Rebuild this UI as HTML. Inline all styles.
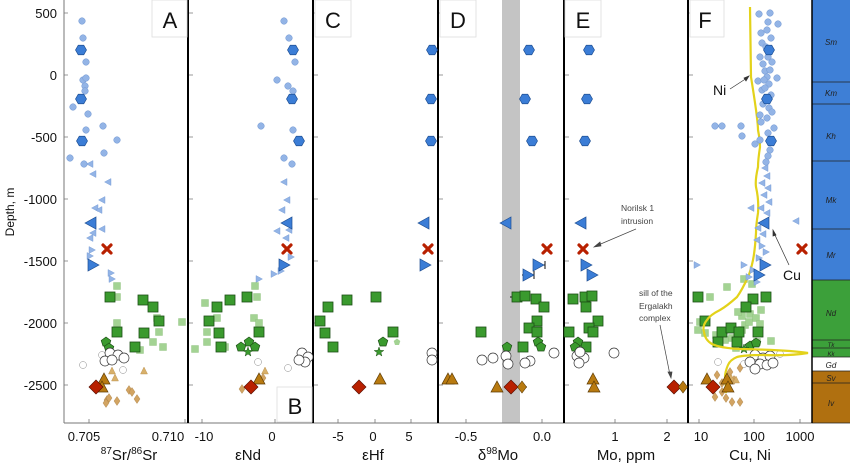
<!DOCTYPE html>
<html><head><meta charset="utf-8"><style>
html,body{margin:0;padding:0;background:#fff;}
svg{display:block;font-family:"Liberation Sans",sans-serif;}
</style></head><body>
<svg width="850" height="465" viewBox="0 0 850 465" xmlns="http://www.w3.org/2000/svg">
<defs>
<circle id="c" r="3.3" fill="#93b4e6" stroke="#7298d2" stroke-width="0.5"/>
<polygon id="H" points="5.5,0 2.75,4.76 -2.75,4.76 -5.5,0 -2.75,-4.76 2.75,-4.76" fill="#3b7dd6" stroke="#1f4f93" stroke-width="0.7"/>
<polygon id="tl" points="-3.5,0 3,-3.5 3,3.5" fill="#93b4e6" stroke="#7298d2" stroke-width="0.4"/>
<polygon id="tr" points="3.5,0 -3,-3.5 -3,3.5" fill="#93b4e6" stroke="#7298d2" stroke-width="0.4"/>
<polygon id="TL" points="-6,0 5,-6 5,6" fill="#3b7dd6" stroke="#1f4f93" stroke-width="0.7"/>
<polygon id="TR" points="6,0 -5,-6 -5,6" fill="#3b7dd6" stroke="#1f4f93" stroke-width="0.7"/>
<rect id="S" x="-5" y="-5" width="10" height="10" fill="#3a9a2e" stroke="#1d4f16" stroke-width="0.8"/>
<rect id="s" x="-3.5" y="-3.5" width="7" height="7" fill="#a3d393" stroke="#8cc07c" stroke-width="0.4"/>
<polygon id="P" points="0,-5 4.8,-1.5 3,4 -3,4 -4.8,-1.5" fill="#3a9a2e" stroke="#1d4f16" stroke-width="0.7"/>
<polygon id="st" points="0,-5 1.2,-1.6 4.8,-1.5 1.9,0.6 2.9,4 0,2 -2.9,4 -1.9,0.6 -4.8,-1.5 -1.2,-1.6" fill="#3a9a2e" stroke="#1d4f16" stroke-width="0.5"/>
<circle id="o" r="5" fill="#fff" stroke="#333" stroke-width="0.7"/>
<circle id="os" r="3.5" fill="#fff" stroke="#888" stroke-width="0.5"/>
<polygon id="B" points="0,-6 6,5 -6,5" fill="#b87a10" stroke="#5e3c06" stroke-width="0.7"/>
<polygon id="b" points="0,-4 3.5,3 -3.5,3" fill="#d8b06a" stroke="#b48a48" stroke-width="0.4"/>
<polygon id="d" points="0,-4.5 3,0 0,4.5 -3,0" fill="#d2a462" stroke="#a77c40" stroke-width="0.4"/>
<polygon id="D" points="0,-7 7,0 0,7 -7,0" fill="#b82000" stroke="#5a0e00" stroke-width="0.7"/>
<path id="X" d="M-4,-4 L4,4 M4,-4 L-4,4" stroke="#b82000" stroke-width="3.2" stroke-linecap="round"/>
</defs>

<!-- strat column -->
<rect x="812" y="0" width="38" height="280" fill="#3e7fd6"/>
<rect x="812" y="280" width="38" height="77" fill="#3ca03a"/>
<rect x="812" y="357" width="38" height="14" fill="#fff"/>
<rect x="812" y="371" width="38" height="52" fill="#b07010"/>
<g stroke="#222" stroke-width="0.8">
<line x1="812" y1="82" x2="850" y2="82"/><line x1="812" y1="104" x2="850" y2="104"/>
<line x1="812" y1="161" x2="850" y2="161"/><line x1="812" y1="229" x2="850" y2="229"/>
<line x1="812" y1="280" x2="850" y2="280"/><line x1="812" y1="340" x2="850" y2="340"/>
<line x1="812" y1="348" x2="850" y2="348"/><line x1="812" y1="357" x2="850" y2="357"/>
<line x1="812" y1="371" x2="850" y2="371"/><line x1="812" y1="383" x2="850" y2="383"/>
<line x1="812" y1="423" x2="850" y2="423"/>
</g>
<g font-size="8" font-style="italic" fill="#222" text-anchor="middle">
<text x="831" y="45">Sm</text><text x="831" y="96">Km</text><text x="831" y="139">Kh</text>
<text x="831" y="203">Mk</text><text x="831" y="258">Mr</text><text x="831" y="316">Nd</text>
<text x="831" y="347" font-size="6">Tk</text><text x="831" y="356" font-size="6">Kk</text>
<text x="831" y="368">Gd</text><text x="831" y="381">Sv</text><text x="831" y="406">Iv</text>
</g>

<!-- gray band D -->
<rect x="502" y="0" width="18" height="423" fill="#c4c4c4"/>

<!-- axes frame -->
<g stroke="#000">
<line x1="64" y1="0" x2="64" y2="423" stroke="#777" stroke-width="1"/>
<line x1="64" y1="423" x2="812" y2="423" stroke="#777" stroke-width="1"/>
<line x1="188" y1="0" x2="188" y2="423" stroke-width="2"/>
<line x1="313" y1="0" x2="313" y2="423" stroke-width="2"/>
<line x1="438" y1="0" x2="438" y2="423" stroke-width="2"/>
<line x1="564" y1="0" x2="564" y2="423" stroke-width="2"/>
<line x1="688" y1="0" x2="688" y2="423" stroke-width="2"/>
<line x1="812" y1="0" x2="812" y2="423" stroke-width="1.5"/>
</g>
<!-- y ticks -->
<g stroke="#777" stroke-width="0.8">
<path d="M64,13h4M64,75h4M64,137h4M64,199h4M64,261h4M64,323h4M64,385h4"/>
<path d="M189,13h4M189,75h4M189,137h4M189,199h4M189,261h4M189,323h4M189,385h4"/>
<path d="M314,13h4M314,75h4M314,137h4M314,199h4M314,261h4M314,323h4M314,385h4"/>
<path d="M439,13h4M439,75h4M439,137h4M439,199h4M439,261h4M439,323h4M439,385h4"/>
<path d="M565,13h4M565,75h4M565,137h4M565,199h4M565,261h4M565,323h4M565,385h4"/>
<path d="M689,13h4M689,75h4M689,137h4M689,199h4M689,261h4M689,323h4M689,385h4"/>
<path d="M89,423v-4M185,423v-4M202,423v-4M275,423v-4M338,423v-4M375,423v-4M411,423v-4M466,423v-4M542,423v-4M615,423v-4M667,423v-4M699,423v-4M754,423v-4M800,423v-4"/>
</g>
<g font-size="13" fill="#111" text-anchor="end">
<text x="57" y="18">500</text><text x="57" y="80">0</text><text x="57" y="142">-500</text>
<text x="57" y="204">-1000</text><text x="57" y="266">-1500</text><text x="57" y="328">-2000</text>
<text x="57" y="390">-2500</text>
</g>
<text transform="translate(14,212) rotate(-90)" font-size="12" text-anchor="middle" fill="#111">Depth, m</text>
<g font-size="13" fill="#111" text-anchor="middle">
<text x="84" y="441">0.705</text><text x="168" y="441">0.710</text><text x="204" y="441">-10</text>
<text x="272" y="441">0</text><text x="338" y="441">-5</text><text x="373" y="441">0</text><text x="409" y="441">5</text>
<text x="466" y="441">-0.5</text><text x="542" y="441">0.0</text><text x="615" y="441">1</text><text x="667" y="441">2</text>
<text x="701" y="441">10</text><text x="754" y="441">100</text><text x="800" y="441">1000</text>
</g>
<g font-size="15" fill="#111" text-anchor="middle">
<text x="129" y="460"><tspan font-size="10" dy="-6">87</tspan><tspan dy="6">Sr/</tspan><tspan font-size="10" dy="-6">86</tspan><tspan dy="6">Sr</tspan></text>
<text x="248" y="460">εNd</text><text x="373" y="460">εHf</text>
<text x="498" y="460">δ<tspan font-size="10" dy="-6">98</tspan><tspan dy="6">Mo</tspan></text>
<text x="626" y="460">Mo, ppm</text><text x="750" y="460">Cu, Ni</text>
</g>

<!-- panel label boxes -->
<g fill="#fff" stroke="#ddd" stroke-width="0.8">
<rect x="152" y="0" width="35" height="37"/><rect x="277" y="387" width="35" height="35"/>
<rect x="315" y="0" width="36" height="37"/><rect x="440" y="0" width="36" height="37"/>
<rect x="565" y="0" width="36" height="37"/><rect x="690" y="0" width="34" height="37"/>
</g>
<g font-size="22" fill="#111" text-anchor="middle">
<text x="170" y="28">A</text><text x="295" y="414">B</text><text x="333" y="28">C</text>
<text x="458" y="28">D</text><text x="583" y="28">E</text><text x="705" y="28">F</text>
</g>

<!-- Panel A -->
<g>
<use href="#c" x="82" y="21"/><use href="#c" x="83" y="38"/><use href="#c" x="86" y="62"/><use href="#c" x="83" y="80"/><use href="#c" x="86" y="78"/><use href="#c" x="85" y="86"/><use href="#c" x="85" y="91"/><use href="#c" x="73" y="107"/><use href="#c" x="88" y="114"/><use href="#c" x="86" y="130"/><use href="#c" x="103" y="126"/><use href="#c" x="117" y="140"/><use href="#c" x="104" y="153"/><use href="#c" x="70" y="158"/><use href="#c" x="84" y="164"/>
<use href="#H" x="81" y="50"/><use href="#H" x="81" y="99"/><use href="#H" x="82" y="141"/>
<use href="#tl" x="90" y="164"/><use href="#tl" x="93" y="174"/><use href="#tl" x="108" y="182"/><use href="#tl" x="102" y="200"/><use href="#tl" x="95" y="208"/><use href="#tl" x="99" y="210"/><use href="#tl" x="93" y="233"/><use href="#tl" x="90" y="238"/><use href="#tl" x="102" y="229"/>
<use href="#TL" x="91" y="223"/>
<use href="#tr" x="92" y="250"/><use href="#tr" x="90" y="256"/><use href="#tr" x="111" y="273"/><use href="#tr" x="112" y="279"/>
<use href="#TR" x="93" y="265"/><use href="#X" x="107" y="249"/>
<use href="#s" x="117" y="286"/><use href="#s" x="117" y="297"/><use href="#s" x="182" y="322"/><use href="#s" x="117" y="323"/><use href="#s" x="153" y="307"/><use href="#s" x="159" y="332"/><use href="#s" x="135" y="347"/><use href="#s" x="153" y="342"/><use href="#s" x="163" y="347"/><use href="#s" x="157" y="318"/><use href="#s" x="140" y="350"/>
<use href="#S" x="110" y="297"/><use href="#S" x="143" y="300"/><use href="#S" x="153" y="307"/><use href="#S" x="159" y="321"/><use href="#S" x="117" y="332"/><use href="#S" x="144" y="333"/><use href="#S" x="135" y="347"/>
<use href="#P" x="106" y="342"/><use href="#P" x="109" y="348"/>
<use href="#os" x="83" y="365"/><use href="#os" x="123" y="370"/><use href="#os" x="102" y="355"/>
<use href="#o" x="110" y="353"/><use href="#o" x="118" y="355"/><use href="#o" x="124" y="358"/><use href="#o" x="105" y="361"/><use href="#o" x="112" y="360"/>
<use href="#b" x="112" y="371"/><use href="#b" x="115" y="378"/><use href="#b" x="144" y="371"/>
<use href="#d" x="129" y="390"/><use href="#d" x="132" y="392"/><use href="#d" x="137" y="399"/><use href="#d" x="117" y="401"/><use href="#d" x="107" y="400"/><use href="#d" x="106" y="403"/><use href="#d" x="109" y="398"/>
<use href="#B" x="104" y="379"/><use href="#B" x="102" y="387"/><use href="#D" x="96" y="387"/>
</g>

<!-- Panel B -->
<g>
<use href="#c" x="284" y="21"/><use href="#c" x="289" y="38"/><use href="#c" x="295" y="62"/><use href="#c" x="277" y="80"/><use href="#c" x="288" y="86"/><use href="#c" x="293" y="91"/><use href="#c" x="293" y="130"/><use href="#c" x="261" y="126"/><use href="#c" x="284" y="158"/><use href="#c" x="292" y="164"/>
<use href="#H" x="293" y="50"/><use href="#H" x="292" y="99"/><use href="#H" x="299" y="141"/>
<use href="#tl" x="284" y="182"/><use href="#tl" x="287" y="200"/><use href="#tl" x="282" y="210"/><use href="#tl" x="277" y="231"/><use href="#tl" x="289" y="230"/><use href="#tl" x="286" y="238"/>
<use href="#TL" x="287" y="223"/><use href="#X" x="287" y="249"/>
<use href="#tr" x="291" y="257"/><use href="#tr" x="281" y="271"/><use href="#tr" x="274" y="274"/><use href="#tr" x="259" y="279"/>
<use href="#TR" x="284" y="265"/>
<use href="#s" x="255" y="286"/><use href="#s" x="257" y="297"/><use href="#s" x="205" y="303"/><use href="#s" x="217" y="318"/><use href="#s" x="207" y="332"/><use href="#s" x="207" y="342"/><use href="#s" x="195" y="349"/><use href="#s" x="254" y="318"/><use href="#s" x="259" y="323"/><use href="#s" x="225" y="347"/>
<use href="#S" x="247" y="297"/><use href="#S" x="230" y="300"/><use href="#S" x="217" y="307"/><use href="#S" x="209" y="321"/><use href="#S" x="219" y="333"/><use href="#S" x="221" y="347"/><use href="#S" x="259" y="332"/>
<use href="#P" x="249" y="342"/><use href="#P" x="241" y="347"/><use href="#P" x="255" y="347"/><use href="#st" x="248" y="352"/>
<use href="#o" x="302" y="353"/><use href="#o" x="308" y="357"/><use href="#o" x="305" y="362"/><use href="#o" x="299" y="360"/>
<use href="#os" x="288" y="368"/><use href="#os" x="258" y="362"/>
<use href="#b" x="265" y="371"/><use href="#d" x="263" y="378"/><use href="#d" x="242" y="389"/>
<use href="#B" x="259" y="379"/><use href="#D" x="251" y="387"/>
</g>

<!-- Panel C -->
<g>
<use href="#H" x="432" y="50"/><use href="#H" x="431" y="99"/><use href="#H" x="431" y="141"/>
<use href="#TL" x="424" y="223"/><use href="#X" x="428" y="249"/><use href="#TR" x="425" y="265"/>
<use href="#S" x="347" y="300"/><use href="#S" x="328" y="307"/><use href="#S" x="320" y="321"/><use href="#S" x="325" y="333"/><use href="#S" x="333" y="347"/><use href="#S" x="376" y="297"/><use href="#S" x="393" y="332"/>
<use href="#P" x="383" y="342"/><polygon transform="translate(397,342)" points="0,-3.5 3.3,-1 2,3 -2,3 -3.3,-1" fill="#a3d393"/>
<use href="#st" x="379" y="352"/>
<use href="#o" x="432" y="353"/><use href="#o" x="432" y="360"/>
<use href="#B" x="380" y="379"/><use href="#D" x="359" y="387"/>
</g>

<!-- Panel D -->
<g>
<use href="#H" x="529" y="50"/><use href="#H" x="525" y="99"/><use href="#H" x="532" y="141"/>
<use href="#TL" x="506" y="223"/><use href="#X" x="547" y="249"/>
<path d="M533,265h12M545,261v8M522,275h12M534,271v8" stroke="#111" stroke-width="1"/>
<use href="#TR" x="538" y="265"/><use href="#TR" x="528" y="275"/>
<path d="M510,297h12" stroke="#111"/>
<use href="#S" x="517" y="297"/><use href="#S" x="525" y="296"/><use href="#S" x="536" y="299"/><use href="#S" x="544" y="307"/><use href="#S" x="537" y="321"/><use href="#S" x="529" y="328"/><use href="#S" x="537" y="332"/><use href="#S" x="481" y="332"/><use href="#S" x="523" y="347"/>
<use href="#P" x="507" y="347"/><use href="#P" x="538" y="342"/><use href="#P" x="541" y="347"/>
<use href="#o" x="554" y="353"/><use href="#o" x="482" y="360"/><use href="#o" x="493" y="358"/><use href="#o" x="506" y="356"/><use href="#o" x="508" y="364"/><use href="#o" x="530" y="361"/><use href="#o" x="525" y="363"/>
<path d="M505,387h22" stroke="#111"/>
<use href="#B" x="448" y="379"/><use href="#B" x="452" y="379"/><use href="#B" x="497" y="387"/><use href="#D" x="511" y="387"/>
<polygon transform="translate(522,387)" points="0,-6 4.5,0 0,6 -4.5,0" fill="#b87a10" stroke="#5e3c06" stroke-width="0.6"/>
</g>

<!-- Panel E -->
<g>
<use href="#H" x="589" y="50"/><use href="#H" x="587" y="99"/><use href="#H" x="585" y="141"/>
<use href="#TL" x="581" y="223"/><use href="#X" x="583" y="249"/>
<use href="#TR" x="586" y="265"/><use href="#TR" x="592" y="275"/>
<use href="#S" x="573" y="299"/><use href="#S" x="585" y="297"/><use href="#S" x="592" y="296"/><use href="#S" x="586" y="307"/><use href="#S" x="598" y="321"/><use href="#S" x="589" y="328"/><use href="#S" x="593" y="332"/><use href="#S" x="569" y="332"/><use href="#S" x="586" y="347"/>
<use href="#P" x="578" y="342"/><use href="#P" x="575" y="347"/>
<use href="#o" x="577" y="356"/><use href="#o" x="584" y="358"/><use href="#o" x="579" y="363"/><use href="#o" x="614" y="353"/><use href="#o" x="580" y="352"/>
<use href="#B" x="593" y="379"/><use href="#B" x="594" y="387"/>
<use href="#D" x="674" y="387"/>
<polygon transform="translate(683,387)" points="0,-6 4.5,0 0,6 -4.5,0" fill="#b87a10" stroke="#5e3c06" stroke-width="0.6"/>
</g>
<g font-size="8.5" fill="#444">
<text x="621" y="211">Norilsk 1</text><text x="621" y="224">intrusion</text>
<text x="639" y="296">sill of the</text><text x="639" y="309">Ergalakh</text><text x="639" y="321">complex</text>
</g>
<g stroke="#444" stroke-width="0.7" fill="#444">
<line x1="636" y1="229" x2="596" y2="246"/><polygon points="594,247 600,242 601,246"/>
<line x1="660" y1="325" x2="670" y2="375"/><polygon points="671,378 668,372 672,372"/>
</g>

<!-- Panel F -->
<g>
<use href="#s" x="727" y="287"/><use href="#s" x="710" y="297"/><use href="#s" x="700" y="322"/><use href="#s" x="698" y="330"/><use href="#s" x="705" y="333"/><use href="#s" x="716" y="335"/><use href="#s" x="725" y="340"/><use href="#s" x="732" y="338"/><use href="#s" x="742" y="316"/><use href="#s" x="750" y="314"/><use href="#s" x="756" y="318"/><use href="#s" x="745" y="325"/><use href="#s" x="738" y="312"/><use href="#s" x="760" y="324"/><use href="#s" x="749" y="322"/><use href="#s" x="742" y="330"/><use href="#s" x="771" y="341"/><use href="#s" x="757" y="342"/><use href="#s" x="736" y="348"/><use href="#s" x="761" y="310"/><use href="#s" x="752" y="284"/><use href="#s" x="744" y="279"/>
<use href="#S" x="698" y="297"/><use href="#S" x="753" y="299"/><use href="#S" x="766" y="297"/><use href="#S" x="746" y="307"/><use href="#S" x="705" y="321"/><use href="#S" x="722" y="332"/><use href="#S" x="731" y="328"/><use href="#S" x="739" y="332"/><use href="#S" x="758" y="332"/><use href="#S" x="718" y="342"/><use href="#S" x="737" y="342"/>
<use href="#P" x="750" y="346"/><use href="#P" x="756" y="343"/><use href="#st" x="744" y="349"/>
<use href="#os" x="718" y="362"/><use href="#os" x="744" y="364"/><use href="#os" x="780" y="354"/>
<use href="#o" x="755" y="355"/><use href="#o" x="763" y="358"/><use href="#o" x="770" y="356"/><use href="#o" x="750" y="362"/><use href="#o" x="760" y="364"/><use href="#o" x="767" y="365"/><use href="#o" x="755" y="369"/><use href="#o" x="773" y="363"/>
</g>
<!-- Ni curve -->
<path d="M750,7 L751,77 Q758,120 758,130 Q760,140 760,147 Q758,160 758,167 Q755,180 756,187 Q759,200 758,213 Q756,225 756,233 Q755,250 753,260 Q751,270 748,277 Q742,290 737,297 Q727,306 720,310 Q710,315 707,320 Q702,326 704,332 Q705,340 712,344 Q720,348 740,349 Q790,350 808,353 Q790,356 763,355 Q745,355 737,357 Q730,360 728,365 Q725,372 725,377 Q726,386 726,393" fill="none" stroke="#e3d21a" stroke-width="2.2"/>
<g>
<use href="#c" x="759" y="14"/><use href="#c" x="770" y="13"/><use href="#c" x="768" y="22"/><use href="#c" x="778" y="24"/><use href="#c" x="761" y="33"/><use href="#c" x="767" y="30"/><use href="#c" x="762" y="43"/><use href="#c" x="771" y="38"/><use href="#c" x="766" y="47"/><use href="#c" x="760" y="57"/><use href="#c" x="768" y="57"/><use href="#c" x="763" y="64"/><use href="#c" x="772" y="62"/><use href="#c" x="765" y="71"/><use href="#c" x="767" y="77"/><use href="#c" x="758" y="81"/><use href="#c" x="764" y="80"/><use href="#c" x="777" y="78"/><use href="#c" x="769" y="84"/><use href="#c" x="762" y="90"/><use href="#c" x="771" y="95"/><use href="#c" x="763" y="104"/><use href="#c" x="769" y="108"/><use href="#c" x="760" y="115"/><use href="#c" x="767" y="118"/><use href="#c" x="761" y="122"/><use href="#c" x="774" y="128"/><use href="#c" x="768" y="133"/><use href="#c" x="770" y="150"/><use href="#c" x="768" y="156"/><use href="#c" x="766" y="162"/><use href="#c" x="772" y="112"/><use href="#c" x="765" y="88"/><use href="#c" x="770" y="70"/>
<use href="#c" x="715" y="126"/><use href="#c" x="722" y="126"/><use href="#c" x="741" y="126"/><use href="#c" x="742" y="136"/><use href="#c" x="755" y="144"/><use href="#c" x="760" y="140"/>
<use href="#H" x="769" y="50"/><use href="#H" x="767" y="99"/><use href="#H" x="771" y="141"/>
<use href="#tl" x="765" y="168"/><use href="#tl" x="767" y="176"/><use href="#tl" x="762" y="183"/><use href="#tl" x="768" y="188"/><use href="#tl" x="764" y="195"/><use href="#tl" x="769" y="202"/><use href="#tl" x="761" y="208"/><use href="#tl" x="767" y="213"/><use href="#tl" x="751" y="208"/><use href="#tl" x="796" y="221"/><use href="#tl" x="758" y="228"/><use href="#tl" x="763" y="234"/><use href="#tl" x="757" y="240"/>
<use href="#TL" x="764" y="223"/><use href="#X" x="802" y="249"/>
<use href="#tr" x="697" y="265"/><use href="#tr" x="744" y="265"/><use href="#tr" x="762" y="246"/><use href="#tr" x="766" y="252"/><use href="#tr" x="759" y="258"/><use href="#tr" x="753" y="270"/><use href="#tr" x="749" y="277"/><use href="#tr" x="757" y="282"/>
<use href="#TR" x="765" y="265"/><use href="#TR" x="759" y="275"/>
<use href="#d" x="717" y="375"/><use href="#d" x="722" y="383"/><use href="#d" x="730" y="372"/><use href="#d" x="734" y="380"/><use href="#d" x="740" y="368"/><use href="#d" x="715" y="397"/><use href="#d" x="726" y="398"/><use href="#d" x="732" y="402"/><use href="#d" x="740" y="402"/><use href="#d" x="722" y="392"/>
<use href="#b" x="731" y="378"/><use href="#b" x="736" y="380"/>
<use href="#B" x="707" y="379"/><use href="#B" x="727" y="379"/><use href="#B" x="728" y="387"/><use href="#D" x="713" y="387"/>
</g>
<text x="713" y="95" font-size="14" fill="#111">Ni</text>
<text x="783" y="280" font-size="14" fill="#111">Cu</text>
<g stroke="#333" stroke-width="0.7" fill="#333">
<line x1="730" y1="89" x2="747" y2="78"/><polygon points="749,76 744,78 746,81"/>
<line x1="789" y1="265" x2="774" y2="233"/><polygon points="773,230 773,236 776,235"/>
</g>
</svg>
</body></html>
